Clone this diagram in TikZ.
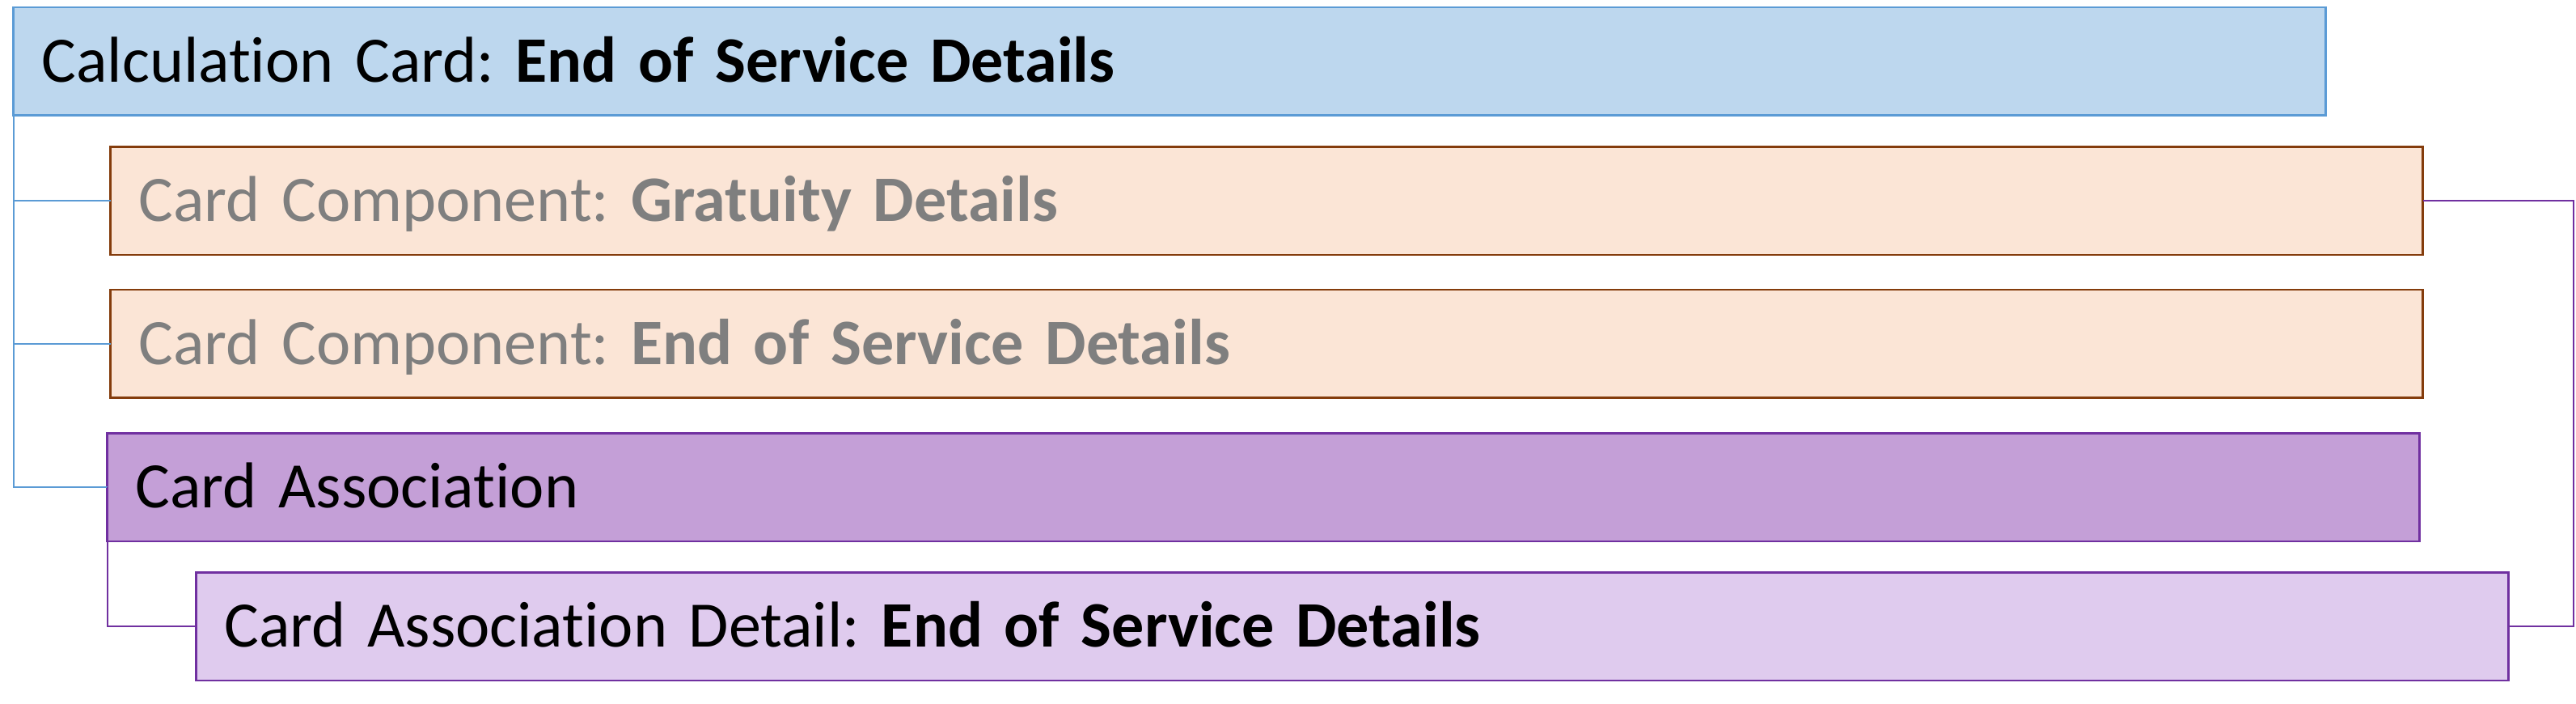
\documentclass[tikz,border=0pt]{standalone}
\usepackage{fontspec}
\setmainfont[Ligatures=NoCommon]{Carlito}
\usetikzlibrary{positioning}

\definecolor{cardblue}{HTML}{BDD7EE}
\definecolor{cardblueline}{HTML}{5B9BD5}
\definecolor{compfill}{HTML}{FBE5D6}
\definecolor{compline}{HTML}{843C0C}
\definecolor{assocfill}{HTML}{C49FD7}
\definecolor{detailfill}{HTML}{DFCBEE}
\definecolor{assocline}{HTML}{7030A0}
\definecolor{comptext}{HTML}{7F7F7F}

\begin{document}
\frenchspacing
\begin{tikzpicture}[
    % Define styles
    card/.style={rectangle, draw, line width=0.77pt, anchor=north west,
        outer sep=0pt, minimum width=28.59cm, minimum height=1.335cm,
        inner xsep=0.35cm, text width=27.89cm, align=left,
        text height=0.51cm, text depth=0pt,
        font=\fontsize{22.8}{27}\selectfont},
    calccard/.style={card, fill=cardblue, draw=cardblueline},
    component/.style={card, fill=compfill, draw=compline, text=comptext},
    association/.style={card, fill=assocfill, draw=assocline},
    assocdetail/.style={card, fill=detailfill, draw=assocline},
    blueline/.style={draw=cardblueline, line width=0.47pt},
    purpleline/.style={draw=assocline, line width=0.47pt}
]
\useasboundingbox (0,0) rectangle (31.85,-8.69);

% Cards
\node[calccard] (calc) at (0.167,-0.09) {Calculation Card: \textbf{End of Service Details}};
\node[component, below right=0.39cm and 1.2cm of calc.south west] (gratuity) {Card Component: \textbf{Gratuity Details}};
\node[component, below=0.43cm of gratuity] (eos) {Card Component: \textbf{End of Service Details}};
\node[association, below right=0.44cm and -0.04cm of eos.south west] (assoc) {Card Association};
\node[assocdetail, below right=0.385cm and 1.1cm of assoc.south west] (detail) {Card Association Detail: \textbf{End of Service Details}};

% Tree connections
\draw[blueline] (calc.west) |- (gratuity.west);
\draw[blueline] (calc.west) |- (eos.west);
\draw[blueline] (calc.west) |- (assoc.west);
\draw[purpleline] (assoc.west) |- (detail.west);

% Link between component and detail
\draw[purpleline] (gratuity.east) -- ++(1.86,0) |- (detail.east);

\end{tikzpicture}
\end{document}
